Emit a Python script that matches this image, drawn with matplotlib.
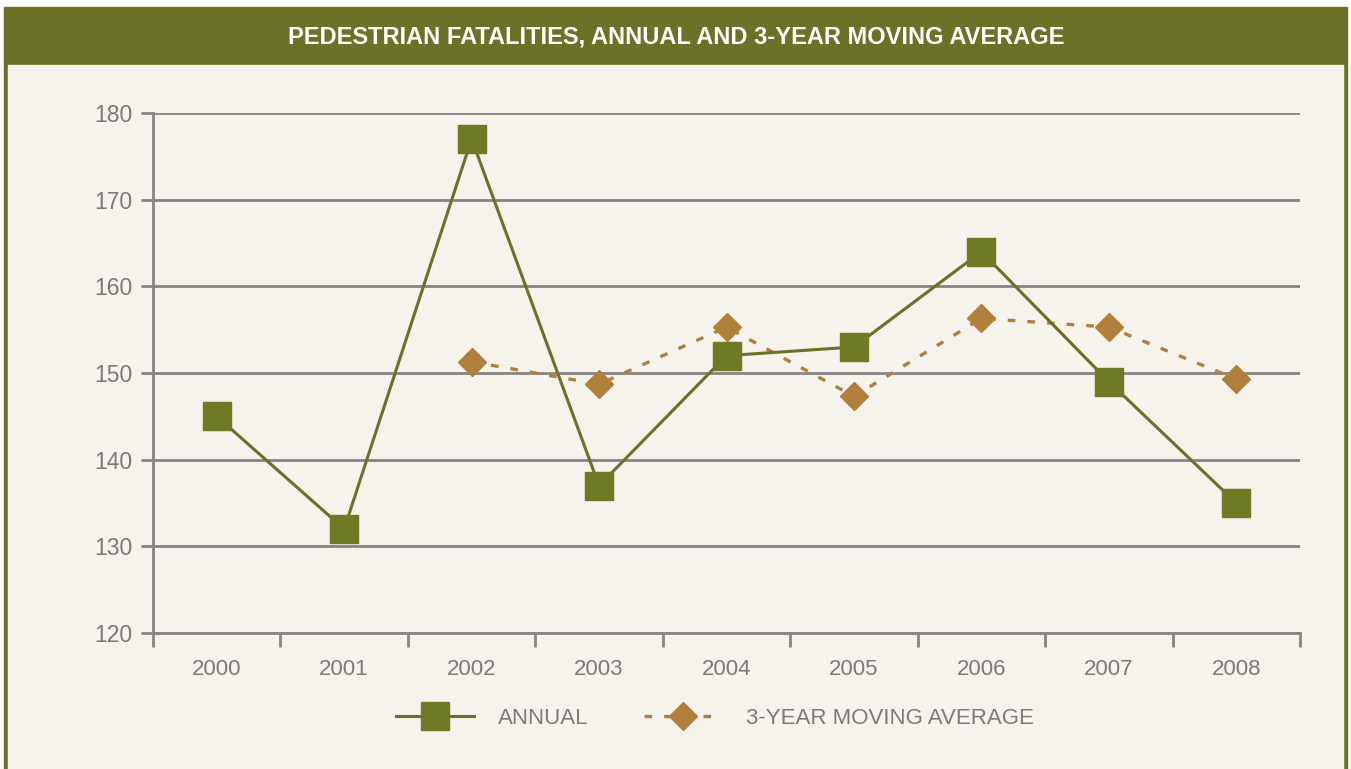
"""
Pedestrian fatalities chart: annual counts with a 3-year moving average.
"""

import matplotlib
matplotlib.use("Agg")
import matplotlib.pyplot as plt
from matplotlib.patches import Rectangle
from matplotlib.lines import Line2D
import numpy as np

W, H = 1351, 769

OLIVE = "#6b7228"
MARKER_OLIVE = "#6e7a24"
BROWN = "#b07f3c"
PANEL = "#f6f2ec"
GRID = "#858585"
TEXT = "#7a7a7a"

FONT = ["Liberation Sans Narrow", "Liberation Sans", "DejaVu Sans"]

years = ["2000", "2001", "2002", "2003", "2004", "2005", "2006", "2007", "2008"]
annual = [145, 132, 177, 137, 152, 153, 164, 149, 135]
moving_avg = [None, None, 151.3, 148.7, 155.3, 147.3, 156.3, 155.3, 149.3]
y_ticks = [120, 130, 140, 150, 160, 170, 180]

title = "PEDESTRIAN FATALITIES, ANNUAL AND 3-YEAR MOVING AVERAGE"

DOTS = (0, (2.3, 3.6))


def px(x0, y0, x1, y1):
    """Pixel box (top-left origin) -> figure fraction rectangle args."""
    return (x0 / W, 1 - y1 / H), (x1 - x0) / W, (y1 - y0) / H


fig = plt.figure(figsize=(W / 100, H / 100), dpi=100, facecolor="white")

# frame: olive border + title band, beige panel inside (kept behind the axes)
xy, w, h = px(4, 7, 1347, 769)
fig.patches.append(Rectangle(xy, w, h, transform=fig.transFigure, color=OLIVE, zorder=-10))
xy, w, h = px(8, 65, 1343, 769)
fig.patches.append(Rectangle(xy, w, h, transform=fig.transFigure, color=PANEL, zorder=-9))

fig.text(676 / W, 1 - 37 / H, title, ha="center", va="center", color="white",
         fontsize=17, fontweight="bold", family=FONT)

ax = fig.add_axes([153 / W, 1 - 633 / H, 1147 / W, 520 / H])
ax.set_facecolor("none")

x = np.arange(len(years))
ax.plot(x, annual, color=OLIVE, lw=2.2, marker="s", ms=19.5, mfc=MARKER_OLIVE,
        mec=MARKER_OLIVE, zorder=4, label="ANNUAL")

ma_x = [i for i, v in enumerate(moving_avg) if v is not None]
ma_y = [v for v in moving_avg if v is not None]
ax.plot(ma_x, ma_y, color=BROWN, lw=2.4, ls=DOTS, marker="D", ms=14,
        mfc=BROWN, mec=BROWN, zorder=3, label="3-YEAR MOVING AVERAGE")

ax.set_xlim(-0.5, len(years) - 0.5)
ax.set_ylim(120, 180)
ax.set_yticks(y_ticks)
ax.set_yticklabels([str(t) for t in y_ticks], family=FONT, fontsize=16.5, color=TEXT)
ax.yaxis.grid(True, color=GRID, lw=2)
ax.set_axisbelow(True)

ax.set_xticks(x)
ax.set_xticklabels(years, family=FONT, fontsize=16, color=TEXT)
ax.set_xticks(np.arange(-0.5, len(years)), minor=True)
ax.tick_params(axis="x", which="major", length=0, pad=19)
ax.tick_params(axis="x", which="minor", length=10, width=2, color=GRID, direction="out")
ax.tick_params(axis="y", length=9, width=2, color=GRID, pad=6)

for side in ("top", "right"):
    ax.spines[side].set_visible(False)
for side in ("left", "bottom"):
    ax.spines[side].set_color(GRID)
    ax.spines[side].set_linewidth(2)

handles = [
    Line2D([], [], color=OLIVE, lw=2.2, marker="s", ms=19.5, mfc=MARKER_OLIVE, mec=MARKER_OLIVE),
    Line2D([], [], color=BROWN, lw=2.4, ls=DOTS, marker="D", ms=14, mfc=BROWN, mec=BROWN),
]
fig.legend(handles, ["ANNUAL", "3-YEAR MOVING AVERAGE"], loc="center",
           bbox_to_anchor=(715 / W, 1 - 718 / H), ncol=2, frameon=False,
           handlelength=3.5, columnspacing=2.5, handletextpad=1.1,
           prop={"family": FONT, "size": 16}, labelcolor=TEXT)

fig.savefig("out.png", dpi=100, facecolor="white")
